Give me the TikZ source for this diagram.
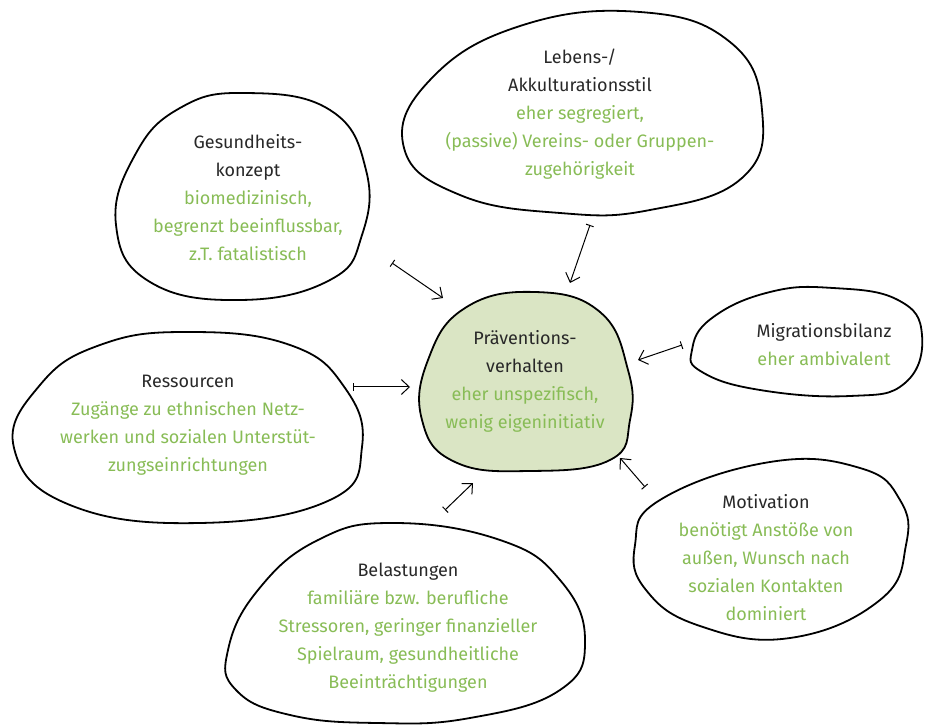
\documentclass[tikz,border=0pt]{standalone}
\usepackage{fontspec}
\setmainfont{Fira Sans}
\usetikzlibrary{arrows.meta}
\definecolor{txtgreen}{RGB}{136,188,86}
\definecolor{txtdark}{RGB}{40,40,40}
\definecolor{blobfill}{RGB}{218,229,196}
\tikzset{
  blob/.style={black, line width=1.8pt, line join=round},
  label/.style={align=center, text=txtdark, inner sep=0pt,
    font=\fontsize{18}{28}\selectfont},
  infl/.style={line width=1pt, {Bar[width=8pt]}-{Straight Barb[length=8pt,width=15pt]}}
}
\newcommand{\gr}[1]{\textcolor{txtgreen}{#1}}
\begin{document}
\begin{tikzpicture}[x=1pt, y=-1pt]
  \useasboundingbox (0,0) rectangle (927,727);
  % blobs
  \draw [blob, fill=blobfill] plot [smooth cycle, tension=0.75] coordinates
    {(535,292) (600,312) (628,370) (630,420) (610,460) (530,471) (455,462) (422,420) (428,360) (465,308)};
  \draw [blob] plot [smooth cycle, tension=0.75] coordinates
    {(245,93) (330,110) (366,170) (362,235) (330,280) (240,300) (150,282) (116,225) (135,155) (180,108)};
  \draw [blob] plot [smooth cycle, tension=0.75] coordinates
    {(640,12) (730,42) (762,110) (742,178) (650,210) (560,213) (460,195) (404,148) (430,80) (520,26)};
  \draw [blob] plot [smooth cycle, tension=0.75] coordinates
    {(187,332) (290,345) (345,388) (362,447) (330,500) (200,523) (70,505) (14,448) (40,385) (100,345)};
  \draw [blob] plot [smooth cycle, tension=0.75] coordinates
    {(833,288) (898,300) (922,335) (905,383) (850,396) (760,390) (702,372) (692,350) (712,318) (770,292)};
  \draw [blob] plot [smooth cycle, tension=0.75] coordinates
    {(770,462) (860,468) (900,500) (906,545) (880,600) (790,638) (700,626) (646,590) (635,545) (660,500)};
  \draw [blob] plot [smooth cycle, tension=0.75] coordinates
    {(393,523) (500,540) (560,580) (585,640) (560,690) (470,718) (377,723) (290,715) (236,690) (228,650) (258,590) (318,540)};
  % texts
  \node [label] (praev) at (525,381) {Präventions-\\verhalten\\\gr{eher unspezifisch,}\\\gr{wenig eigeninitiativ}};
  \node [label] (gesund) at (248,198) {Gesundheits-\\konzept\\\gr{biomedizinisch,}\\\gr{begrenzt beeinflussbar,}\\\gr{z.T. fatalistisch}};
  \node [label] (lebens) at (580,114) {Lebens-/\\Akkulturationsstil\\\gr{eher segregiert,}\\\gr{(passive) Vereins- oder Gruppen-}\\\gr{zugehörigkeit}};
  \node [label] (ress) at (188,425) {Ressourcen\\\gr{Zugänge zu ethnischen Netz-}\\\gr{werken und sozialen Unterstüt-}\\\gr{zungseinrichtungen}};
  \node [label] (migr) at (824,345) {Migrationsbilanz\\\gr{eher ambivalent}};
  \node [label] (motiv) at (766,558) {Motivation\\\gr{benötigt Anstöße von}\\\gr{außen, Wunsch nach}\\\gr{sozialen Kontakten}\\\gr{dominiert}};
  \node [label] (belast) at (408,628) {Belastungen\\\gr{familiäre bzw. berufliche}\\\gr{Stressoren, geringer finanzieller}\\\gr{Spielraum, gesundheitliche}\\\gr{Beeinträchtigungen}};
  % arrow ends
  \coordinate (gesund-a) at (392,263);
  \coordinate (gesund-b) at (443,298);
  \coordinate (lebens-a) at (590,225);
  \coordinate (lebens-b) at (570,283);
  \coordinate (migr-a) at (682,345);
  \coordinate (migr-b) at (638,360);
  \coordinate (ress-a) at (353,387);
  \coordinate (ress-b) at (410,387);
  \coordinate (belast-a) at (445,510);
  \coordinate (belast-b) at (473,483);
  \coordinate (motiv-a) at (645,487);
  \coordinate (motiv-b) at (620,458);
  \foreach \n in {gesund,lebens,migr,ress,belast,motiv}
    \draw [infl] (\n-a) -- (\n-b);
\end{tikzpicture}
\end{document}
